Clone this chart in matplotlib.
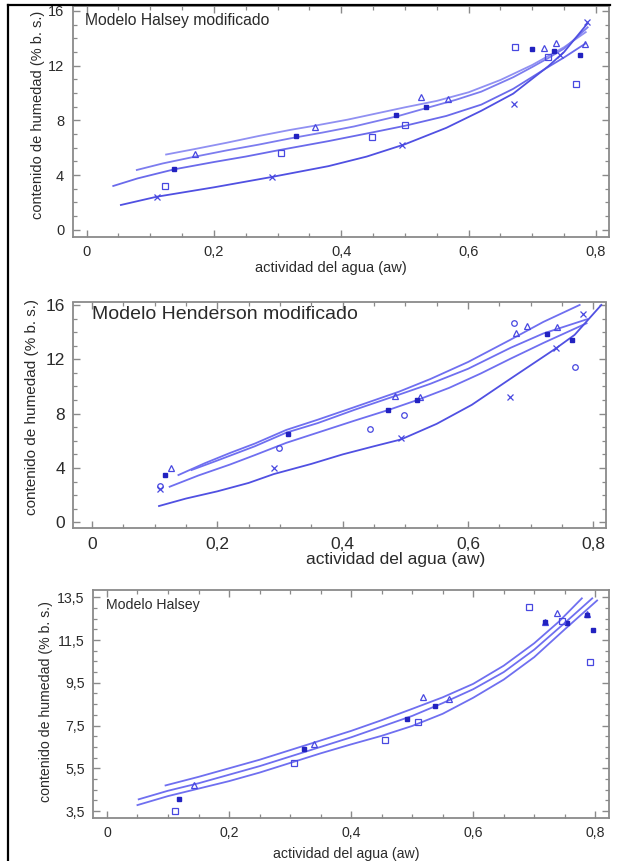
import matplotlib
matplotlib.use("Agg")
import matplotlib.pyplot as plt
from matplotlib.lines import Line2D
from matplotlib.ticker import MultipleLocator

plt.rcParams['font.family'] = ['Liberation Sans', 'DejaVu Sans']

# ---------------- Panel 1: Modelo Halsey modificado ----------------
p1_tri_aw = [0.171, 0.359, 0.525, 0.567, 0.718, 0.737, 0.783]
p1_tri_m = [5.51, 7.53, 9.69, 9.58, 13.27, 13.68, 13.56]
p1_dot_aw = [0.137, 0.329, 0.486, 0.533, 0.699, 0.734, 0.775]
p1_dot_m = [4.42, 6.85, 8.37, 9.00, 13.20, 13.10, 12.78]
p1_sq_aw = [0.123, 0.306, 0.448, 0.500, 0.673, 0.724, 0.768]
p1_sq_m = [3.20, 5.59, 6.76, 7.66, 13.39, 12.66, 10.66]
p1_x_aw = [0.110, 0.292, 0.496, 0.671, 0.743, 0.786]
p1_x_m = [2.41, 3.88, 6.20, 9.17, 12.78, 15.20]

p1_fit1_aw = [0.125, 0.17, 0.22, 0.27, 0.32, 0.36, 0.41, 0.46, 0.50, 0.55, 0.60, 0.65, 0.70, 0.725, 0.75, 0.784]
p1_fit1_m = [5.50, 5.90, 6.36, 6.85, 7.30, 7.62, 8.05, 8.55, 8.95, 9.42, 10.05, 10.95, 12.05, 12.70, 13.35, 14.45]
p1_fit2_aw = [0.079, 0.12, 0.17, 0.22, 0.27, 0.32, 0.37, 0.42, 0.49, 0.53, 0.58, 0.62, 0.67, 0.70, 0.725, 0.75, 0.787]
p1_fit2_m = [4.37, 4.85, 5.34, 5.80, 6.22, 6.68, 7.10, 7.55, 8.32, 8.85, 9.50, 10.10, 11.15, 11.90, 12.55, 13.25, 14.80]
p1_fit3_aw = [0.042, 0.08, 0.138, 0.20, 0.25, 0.30, 0.38, 0.46, 0.50, 0.565, 0.62, 0.67, 0.725, 0.75, 0.783]
p1_fit3_m = [3.20, 3.75, 4.42, 4.95, 5.35, 5.80, 6.48, 7.22, 7.60, 8.32, 9.15, 10.30, 11.90, 12.60, 13.60]
p1_fit4_aw = [0.054, 0.11, 0.20, 0.29, 0.38, 0.44, 0.50, 0.565, 0.62, 0.67, 0.725, 0.75, 0.787]
p1_fit4_m = [1.81, 2.41, 3.10, 3.85, 4.65, 5.35, 6.25, 7.45, 8.70, 9.95, 11.95, 13.00, 15.10]

# ---------------- Panel 2: Modelo Henderson modificado ----------------
p2_tri_aw = [0.126, 0.484, 0.524, 0.677, 0.694, 0.742]
p2_tri_m = [3.97, 9.32, 9.20, 13.96, 14.45, 14.36]
p2_dot_aw = [0.117, 0.313, 0.473, 0.519, 0.726, 0.766]
p2_dot_m = [3.51, 6.48, 8.27, 9.00, 13.84, 13.42]
p2_circ_aw = [0.109, 0.299, 0.443, 0.497, 0.673, 0.770]
p2_circ_m = [2.67, 5.49, 6.85, 7.88, 14.65, 11.41]
p2_x_aw = [0.109, 0.291, 0.493, 0.667, 0.740, 0.783]
p2_x_m = [2.45, 3.97, 6.23, 9.20, 12.81, 15.31]

p2_fit1_aw = [0.138, 0.18, 0.22, 0.26, 0.31, 0.36, 0.42, 0.49, 0.54, 0.60, 0.668, 0.72, 0.778]
p2_fit1_m = [3.48, 4.35, 5.10, 5.80, 6.80, 7.55, 8.50, 9.62, 10.55, 11.80, 13.45, 14.75, 16.00]
p2_fit2_aw = [0.159, 0.20, 0.26, 0.31, 0.36, 0.42, 0.49, 0.54, 0.60, 0.668, 0.72, 0.79]
p2_fit2_m = [3.85, 4.55, 5.60, 6.60, 7.30, 8.30, 9.40, 10.20, 11.30, 12.85, 13.90, 14.95]
p2_fit3_aw = [0.124, 0.17, 0.22, 0.26, 0.31, 0.37, 0.42, 0.473, 0.519, 0.57, 0.62, 0.668, 0.72, 0.789]
p2_fit3_m = [2.62, 3.45, 4.25, 4.95, 5.85, 6.75, 7.50, 8.27, 9.00, 9.90, 10.95, 12.05, 13.20, 14.65]
p2_fit4_aw = [0.107, 0.15, 0.20, 0.25, 0.29, 0.35, 0.40, 0.45, 0.493, 0.55, 0.606, 0.667, 0.74, 0.77, 0.8125]
p2_fit4_m = [1.20, 1.75, 2.28, 2.90, 3.55, 4.30, 5.00, 5.60, 6.10, 7.25, 8.65, 10.55, 12.80, 13.80, 16.00]

# ---------------- Panel 3: Modelo Halsey ----------------
p3_tri_aw = [0.143, 0.339, 0.517, 0.560, 0.717, 0.738, 0.786]
p3_tri_m = [4.70, 6.64, 8.85, 8.73, 12.36, 12.75, 12.70]
p3_dot_aw = [0.118, 0.322, 0.491, 0.538, 0.717, 0.753, 0.786, 0.797]
p3_dot_m = [4.08, 6.39, 7.82, 8.43, 12.34, 12.31, 12.65, 11.97]
p3_sq_aw = [0.111, 0.306, 0.455, 0.510, 0.691, 0.745, 0.792]
p3_sq_m = [3.50, 5.75, 6.82, 7.68, 13.06, 12.41, 10.49]

p3_fit1_aw = [0.096, 0.15, 0.20, 0.25, 0.30, 0.35, 0.40, 0.45, 0.50, 0.55, 0.60, 0.65, 0.70, 0.74, 0.778]
p3_fit1_m = [4.70, 5.10, 5.50, 5.90, 6.35, 6.80, 7.25, 7.75, 8.28, 8.82, 9.45, 10.30, 11.35, 12.35, 13.45]
p3_fit2_aw = [0.052, 0.10, 0.15, 0.20, 0.25, 0.30, 0.35, 0.40, 0.45, 0.50, 0.55, 0.60, 0.65, 0.70, 0.75, 0.795]
p3_fit2_m = [4.05, 4.45, 4.80, 5.20, 5.60, 6.05, 6.50, 6.95, 7.45, 7.95, 8.55, 9.20, 10.00, 11.05, 12.30, 13.45]
p3_fit3_aw = [0.050, 0.10, 0.15, 0.20, 0.25, 0.30, 0.35, 0.40, 0.45, 0.50, 0.55, 0.60, 0.65, 0.70, 0.75, 0.803]
p3_fit3_m = [3.78, 4.20, 4.55, 4.90, 5.30, 5.75, 6.20, 6.62, 7.02, 7.48, 8.05, 8.80, 9.65, 10.70, 12.00, 13.35]

x_ticks = [0, 0.2, 0.4, 0.6, 0.8]
x_ticklabels = ['0', '0,2', '0,4', '0,6', '0,8']
y_ticks_12 = [0, 4, 8, 12, 16]
y_ticklabels_12 = ['0', '4', '8', '12', '16']
y_ticks_3 = [3.5, 5.5, 7.5, 9.5, 11.5, 13.5]
y_ticklabels_3 = ['3,5', '5,5', '7,5', '9,5', '11,5', '13,5']

line_col = '#6f6ff0'
mark_col = '#4848e0'
dot_col = '#2222c0'
spine_col = '#8a8a8a'
text_col = '#2a2a2a'

W, H = 621, 861
fig = plt.figure(figsize=(W / 100, H / 100), dpi=100)


def make_axes(left, right, top, bottom):
    # pixel box -> figure fraction
    return fig.add_axes([left / W, 1 - bottom / H, (right - left) / W, (bottom - top) / H])


def style(ax, fs, xminor, yminor):
    for s in ax.spines.values():
        s.set_color(spine_col)
        s.set_linewidth(1.3)
    ax.xaxis.set_minor_locator(MultipleLocator(xminor))
    ax.yaxis.set_minor_locator(MultipleLocator(yminor))
    ax.tick_params(which='both', direction='in', top=True, right=True,
                   color=spine_col, labelcolor=text_col, labelsize=fs)
    ax.tick_params(which='major', length=5, width=1.0, pad=6)
    ax.tick_params(which='minor', length=3, width=0.9)


def markers(ax, aw, m, kind, ms):
    if kind == 'dot':
        ax.plot(aw, m, 's', ms=ms * 0.6, color=dot_col, mec=dot_col, ls='none')
    elif kind == 'x':
        ax.plot(aw, m, 'x', ms=ms, color=mark_col, mew=0.9, ls='none')
    else:
        ax.plot(aw, m, kind, ms=ms, mfc='none', mec=mark_col, mew=0.9, ls='none')


# ---- panel 1 ----
ax1 = make_axes(72.5, 608.7, 6, 236.7)
ax1.plot(p1_fit1_aw, p1_fit1_m, color='#9090f2', lw=1.3)
ax1.plot(p1_fit2_aw, p1_fit2_m, color='#7c7cef', lw=1.3)
ax1.plot(p1_fit3_aw, p1_fit3_m, color='#6a6aeb', lw=1.3)
ax1.plot(p1_fit4_aw, p1_fit4_m, color='#5050e2', lw=1.3)
markers(ax1, p1_tri_aw, p1_tri_m, '^', 4.5)
markers(ax1, p1_dot_aw, p1_dot_m, 'dot', 4.5)
markers(ax1, p1_sq_aw, p1_sq_m, 's', 4.0)
markers(ax1, p1_x_aw, p1_x_m, 'x', 4.5)
ax1.set_xlim(-0.022, 0.820)
ax1.set_ylim(-0.51, 16.36)
ax1.set_xticks(x_ticks, x_ticklabels)
ax1.set_yticks(y_ticks_12, y_ticklabels_12)
style(ax1, 10.5, 0.05, 1)
ax1.set_xlabel('actividad del agua (aw)', fontsize=10.5, color=text_col)
ax1.xaxis.set_label_coords(0.482, -0.136)
ax1.xaxis.label.set_va('center')
ax1.set_ylabel('contenido de humedad (% b. s.)', fontsize=10.5, color=text_col)
ax1.yaxis.set_label_coords(-0.065, 0.527)
ax1.yaxis.label.set_va('center')
ax1.text(0.023, 0.939, 'Modelo Halsey modificado', transform=ax1.transAxes,
         fontsize=11.3, color=text_col, ha='left', va='center')

# ---- panel 2 ----
ax2 = make_axes(73.3, 606, 302.5, 528.3)
ax2.plot(p2_fit1_aw, p2_fit1_m, color=line_col, lw=1.3)
ax2.plot(p2_fit2_aw, p2_fit2_m, color=line_col, lw=1.3)
ax2.plot(p2_fit3_aw, p2_fit3_m, color=line_col, lw=1.3)
ax2.plot(p2_fit4_aw, p2_fit4_m, color='#5050e2', lw=1.3)
markers(ax2, p2_tri_aw, p2_tri_m, '^', 4.5)
markers(ax2, p2_dot_aw, p2_dot_m, 'dot', 4.5)
markers(ax2, p2_circ_aw, p2_circ_m, 'o', 4.0)
markers(ax2, p2_x_aw, p2_x_m, 'x', 4.5)
ax2.set_xlim(-0.0297, 0.820)
ax2.set_ylim(-0.44, 16.18)
ax2.set_xticks(x_ticks, x_ticklabels)
ax2.set_yticks(y_ticks_12, y_ticklabels_12)
style(ax2, 12.5, 0.05, 1)
ax2.set_xlabel('actividad del agua (aw)', fontsize=12.5, color=text_col)
ax2.xaxis.set_label_coords(0.606, -0.140)
ax2.xaxis.label.set_va('center')
ax2.set_ylabel('contenido de humedad (% b. s.)', fontsize=11, color=text_col)
ax2.yaxis.set_label_coords(-0.078, 0.538)
ax2.yaxis.label.set_va('center')
ax2.text(0.035, 0.949, 'Modelo Henderson modificado', transform=ax2.transAxes,
         fontsize=14, color=text_col, ha='left', va='center')

# ---- panel 3 ----
ax3 = make_axes(93.1, 608.7, 590, 817.7)
ax3.plot(p3_fit1_aw, p3_fit1_m, color=line_col, lw=1.3)
ax3.plot(p3_fit2_aw, p3_fit2_m, color=line_col, lw=1.3)
ax3.plot(p3_fit3_aw, p3_fit3_m, color=line_col, lw=1.3)
markers(ax3, p3_tri_aw, p3_tri_m, '^', 5.0)
markers(ax3, p3_dot_aw, p3_dot_m, 'dot', 4.5)
markers(ax3, p3_sq_aw, p3_sq_m, 's', 4.0)
ax3.set_xlim(-0.0227, 0.822)
ax3.set_ylim(3.19, 13.84)
ax3.set_xticks(x_ticks, x_ticklabels)
ax3.set_yticks(y_ticks_3, y_ticklabels_3)
style(ax3, 10.2, 0.05, 0.5)
ax3.set_xlabel('actividad del agua (aw)', fontsize=10.2, color=text_col)
ax3.xaxis.set_label_coords(0.491, -0.159)
ax3.xaxis.label.set_va('center')
ax3.set_ylabel('contenido de humedad (% b. s.)', fontsize=10.2, color=text_col)
ax3.yaxis.set_label_coords(-0.092, 0.509)
ax3.yaxis.label.set_va('center')
ax3.text(0.025, 0.934, 'Modelo Halsey', transform=ax3.transAxes,
         fontsize=10.2, color=text_col, ha='left', va='center')

# black frame of the scanned figure (left and top edges)
fig.add_artist(Line2D([8 / W, 8 / W], [0, 1 - 5 / H], transform=fig.transFigure,
                      color='black', lw=1.6))
fig.add_artist(Line2D([8 / W, 610 / W], [1 - 5 / H, 1 - 5 / H], transform=fig.transFigure,
                      color='black', lw=1.6))

fig.savefig('out.png', dpi=100)
